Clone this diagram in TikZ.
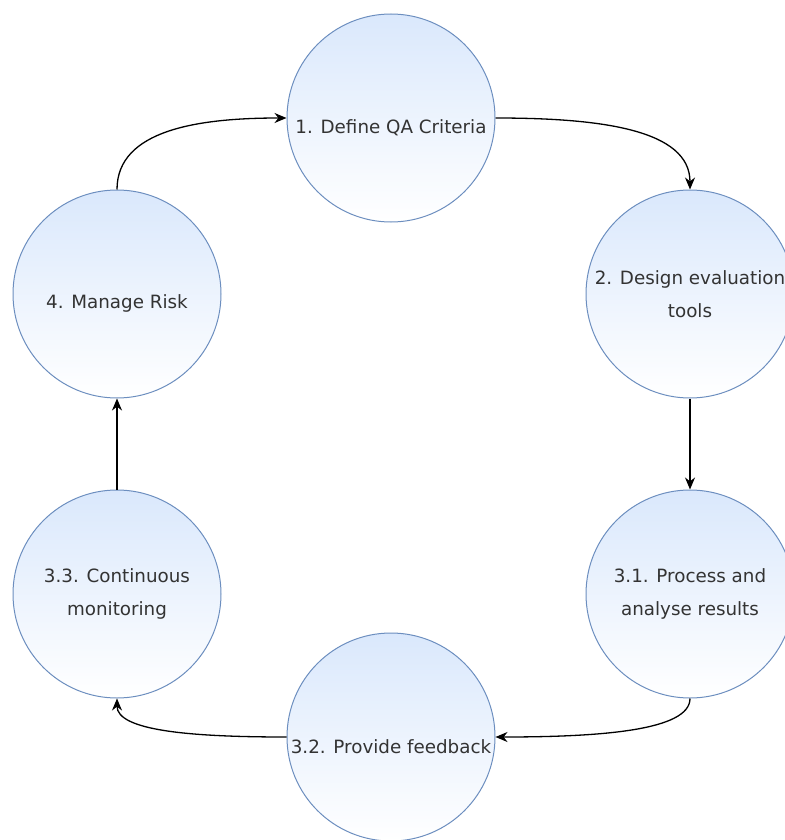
\documentclass[tikz,border=0pt]{standalone}
\usepackage{fontspec}
\setmainfont{DejaVu Sans}
\usetikzlibrary{arrows.meta}
\definecolor{stagefill}{HTML}{DAE8FC}
\definecolor{stageline}{HTML}{6C8EBF}
\definecolor{stagetext}{HTML}{333333}
\tikzset{
    stage/.style={circle, draw=stageline, line width=1pt, top color=stagefill, bottom color=white,
        minimum size=208pt, inner sep=0pt, align=center, text=stagetext,
        font=\fontsize{18.3}{33.5}\selectfont, execute at begin node={\rule{0pt}{33pt}}},
    flow/.style={black, line width=1.3pt, -{Stealth[length=12pt,width=10pt]}}
}

\begin{document}
\begin{tikzpicture}[x=1pt,y=-1pt]
        \useasboundingbox (0,0) rectangle (784,840);
        \node[stage] (define) at (391,118) {1. Define QA Criteria};
        \node[stage] (design) at (690,294) {2. Design evaluation\\tools};
        \node[stage] (process) at (690,594) {3.1. Process and\\analyse results};
        \node[stage] (feedback) at (391,737) {3.2. Provide feedback};
        \node[stage] (monitor) at (117,594) {3.3. Continuous\\monitoring};
        \node[stage] (risk) at (117,294) {4. Manage Risk};
        \draw[flow] (define.east) .. controls +(105,0) and +(0,-60) .. (design.north);
        \draw[flow] (design.south) -- (process.north);
        \draw[flow] (process.south) .. controls +(0,32) and +(105,0) .. (feedback.east);
        \draw[flow] (feedback.west) .. controls +(-97,0) and +(0,32) .. (monitor.south);
        \draw[flow] (monitor.north) -- (risk.south);
        \draw[flow] (risk.north) .. controls +(0,-60) and +(-87,0) .. (define.west);
    \end{tikzpicture}
\end{document}
